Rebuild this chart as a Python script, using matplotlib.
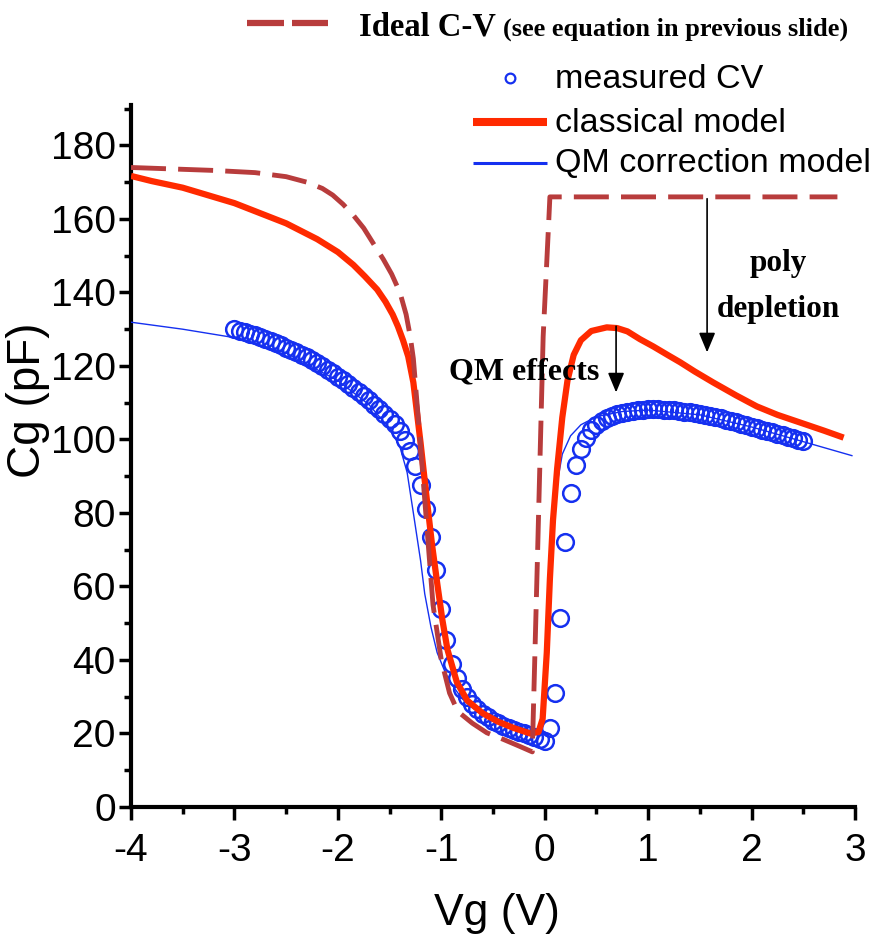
import numpy as np
import matplotlib
matplotlib.use('Agg')
import matplotlib.pyplot as plt

plt.rcParams['axes.unicode_minus'] = False

# --- Data ---
# measured C-V points (0.05 V steps from -3 V to 2.5 V)
meas_v = np.linspace(-3.0, 2.5, 111)
meas_c = [130.0, 129.6, 129.2, 128.8, 128.3, 127.8, 127.3, 126.8, 126.2, 125.6, 125.0,
          124.4, 123.7, 123.0, 122.3, 121.5, 120.7, 119.9, 119.0, 118.1, 117.1,
          116.1, 115.1, 114.1, 113.0, 111.9, 110.7, 109.5, 108.2, 107.0, 105.7,
          104.1, 102.2, 99.8, 96.8, 92.8, 87.5, 81.0, 73.5, 64.5, 54.0,
          45.5, 39.0, 35.0, 32.0, 29.8, 28.0, 26.6, 25.4, 24.4, 23.5,
          22.8, 22.1, 21.5, 21.0, 20.5, 20.0, 19.5, 19.0, 18.5, 18.0,
          21.5, 31.0, 51.5, 72.0, 85.5, 93.0, 97.5, 100.5, 102.5, 104.0,
          105.0, 105.8, 106.4, 106.9, 107.3, 107.6, 107.8, 108.0, 108.1, 108.2,
          108.2, 108.2, 108.1, 108.0, 107.9, 107.8, 107.6, 107.4, 107.2, 107.0,
          106.7, 106.4, 106.1, 105.8, 105.4, 105.1, 104.7, 104.3, 103.9, 103.5,
          103.1, 102.7, 102.3, 101.9, 101.5, 101.1, 100.7, 100.3, 99.9, 99.5]

# ideal C-V (dashed)
ideal_v = [-4.0, -3.6, -3.2, -2.8, -2.5, -2.3, -2.15, -2.05, -1.95, -1.85, -1.75,
           -1.65, -1.56, -1.48, -1.4, -1.34, -1.3, -1.27, -1.2, -1.15, -1.08, -1.0,
           -0.92, -0.84, -0.7, -0.56, -0.4, -0.25, -0.12,
           -0.07, -0.015, 0.04, 0.05, 2.83]
ideal_c = [174.0, 173.6, 173.2, 172.6, 171.5, 170.0, 168.3, 166.5, 164.0, 161.0, 157.5,
           153.0, 149.0, 145.0, 140.0, 134.0, 128.0, 122.0, 98.0, 80.0, 55.0, 40.0,
           31.0, 26.0, 22.8, 20.2, 18.4, 16.6, 15.0,
           68.0, 128.0, 160.0, 166.0, 166.0]

# classical model (red)
class_v = [-4.0, -3.8, -3.5, -3.0, -2.5, -2.2, -2.0, -1.85, -1.74, -1.62, -1.54, -1.47,
           -1.42, -1.37, -1.32, -1.27, -1.2, -1.14, -1.09, -1.04, -0.99, -0.94, -0.85,
           -0.75, -0.6, -0.45, -0.3, -0.14, -0.06, -0.02,
           0.02, 0.05, 0.08, 0.12, 0.17, 0.22, 0.28, 0.35, 0.45, 0.6, 0.7, 0.8, 0.92,
           1.05, 1.2, 1.31, 1.45, 1.63, 1.85, 2.05, 2.25, 2.47, 2.7, 2.89]
class_c = [171.7, 170.3, 168.5, 164.3, 158.8, 154.5, 151.0, 147.5, 144.4, 140.8, 137.5, 134.0,
           130.8, 127.0, 122.6, 115.5, 99.0, 83.7, 71.5, 61.0, 51.0, 42.8, 34.0,
           29.0, 25.5, 23.2, 21.5, 20.0, 20.4, 24.0,
           42.0, 62.0, 78.0, 92.0, 106.0, 116.0, 123.0, 127.0, 129.5, 130.5, 130.3, 129.4, 127.3,
           125.3, 122.8, 121.0, 118.5, 115.5, 112.0, 109.0, 106.7, 104.6, 102.4, 100.5]

# QM correction model (thin blue)
qm_v = [-4.0, -3.5, -3.0, -2.5, -2.0, -1.7, -1.5, -1.4, -1.33, -1.27, -1.2, -1.16,
        -1.1, -1.04, -0.96, -0.89, -0.8, -0.7, -0.6, -0.45, -0.3, -0.15, -0.06, -0.02,
        0.02, 0.05, 0.08, 0.12, 0.17, 0.25, 0.35, 0.5, 0.75, 1.0, 1.5, 2.0, 2.5, 2.97]
qm_c = [131.9, 130.0, 127.7, 123.5, 116.0, 109.5, 103.0, 98.0, 91.0, 80.0, 67.0, 58.0,
        49.0, 42.0, 36.5, 33.0, 29.5, 27.0, 25.0, 23.0, 21.5, 20.3, 20.0, 23.0,
        40.0, 60.0, 76.0, 88.0, 96.0, 101.0, 104.0, 106.2, 107.6, 108.0, 106.7, 103.4, 99.4, 95.6]

# --- Colours / fonts ---
RED = '#ff2a00'
BROWN = '#b83c3c'
BLUE = '#1530f0'
SANS = 'Liberation Sans'
SERIF = 'Liberation Serif'

fig = plt.figure(figsize=(8.8, 9.47), dpi=100)
ax = fig.add_axes([131 / 880, 140 / 947, 724 / 880, 702 / 947])

ax.plot(meas_v, meas_c, 'o', ms=12, mfc='none', mec=BLUE, mew=1.8, zorder=2)
ax.plot(qm_v, qm_c, color=BLUE, lw=1.0, zorder=3)
ax.plot(class_v, class_c, color=RED, lw=4.5, zorder=4, solid_capstyle='butt')
ax.plot(ideal_v, ideal_c, color=BROWN, lw=3.5, dashes=(7.2, 2.5), zorder=5)

ax.set_xlim(-4, 3)
ax.set_ylim(0, 191)
ax.set_xticks(range(-4, 4))
ax.set_xticks(np.arange(-3.5, 3, 1.0), minor=True)
ax.set_yticks(range(0, 181, 20))
ax.set_yticks(range(10, 191, 20), minor=True)

for s in ['top', 'right']:
    ax.spines[s].set_visible(False)
for s in ['left', 'bottom']:
    ax.spines[s].set_linewidth(3)

ax.tick_params(which='major', direction='out', length=9, width=2.5, color='k')
ax.tick_params(which='minor', direction='out', length=5, width=2.5, color='k')
ax.tick_params(axis='y', pad=2)
ax.tick_params(axis='x', pad=10)
for lab in ax.get_xticklabels() + ax.get_yticklabels():
    lab.set_fontfamily(SANS)
    lab.set_fontsize(28)

ax.set_xlabel('Vg (V)', fontfamily=SANS, fontsize=32)
ax.xaxis.set_label_coords(0.506, -0.122)
ax.set_ylabel('Cg (pF)', fontfamily=SANS, fontsize=33)
ax.yaxis.set_label_coords(-0.112, 0.58)

# annotations
arrow = dict(arrowstyle='-|>,head_length=0.6,head_width=0.25', color='k', lw=1.2,
             shrinkA=0, shrinkB=0, mutation_scale=20)
ax.annotate('', xy=(1.57, 123.7), xytext=(1.57, 165.5), arrowprops=arrow, zorder=6)
ax.annotate('', xy=(0.69, 112.8), xytext=(0.69, 130.8), arrowprops=arrow, zorder=6)
ax.text(-0.93, 116.3, 'QM effects', family=SERIF, fontweight='bold', fontsize=23,
        va='baseline', ha='left', zorder=6)
ax.text(2.26, 145.8, 'poly', family=SERIF, fontweight='bold', fontsize=22.5,
        va='baseline', ha='center')
ax.text(2.26, 133.2, 'depletion', family=SERIF, fontweight='bold', fontsize=22.5,
        va='baseline', ha='center')

# legend drawn in pixel coordinates on an overlay
ov = fig.add_axes([0, 0, 1, 1], zorder=10)
ov.set_xlim(0, 880)
ov.set_ylim(947, 0)
ov.axis('off')
ov.patch.set_alpha(0)

ov.plot([247, 284], [23, 23], color=BROWN, lw=4.5, solid_capstyle='butt')
ov.plot([292, 328], [23, 23], color=BROWN, lw=4.5, solid_capstyle='butt')
ov.text(359, 35, 'Ideal C-V', family=SERIF, fontweight='bold', fontsize=23.5,
        va='baseline', ha='left')
ov.text(503, 36, '(see equation in previous slide)', family=SERIF, fontweight='bold',
        fontsize=19, va='baseline', ha='left')

ov.plot([510], [78], 'o', ms=7, mfc='none', mec=BLUE, mew=1.6)
ov.text(555, 88, 'measured CV', family=SANS, fontsize=24.5, va='baseline')
ov.plot([473, 547], [122, 122], color=RED, lw=5.8, solid_capstyle='butt')
ov.text(555, 132, 'classical model', family=SANS, fontsize=24.5, va='baseline')
ov.plot([473, 547], [163, 163], color=BLUE, lw=2.2, solid_capstyle='butt')
ov.text(555, 172, 'QM correction model', family=SANS, fontsize=24.5, va='baseline')

fig.savefig('out.png', dpi=100)
